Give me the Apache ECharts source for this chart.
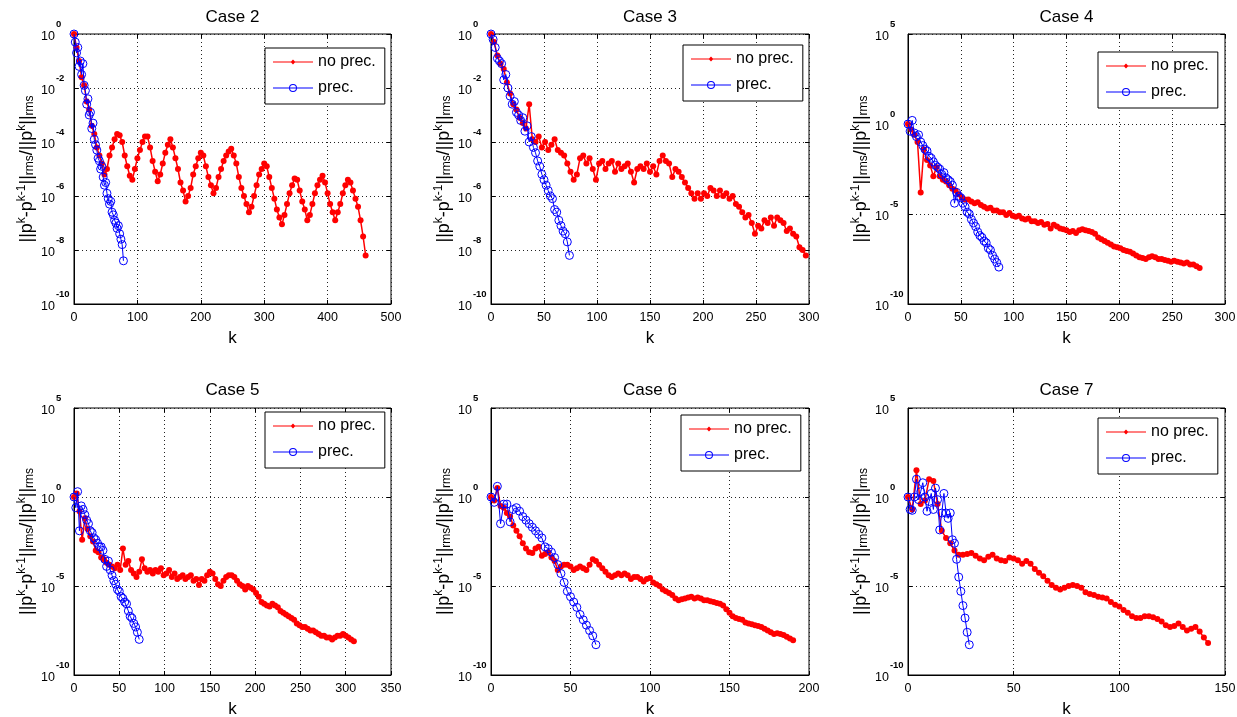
<!DOCTYPE html>
<html>
<head>
<meta charset="utf-8">
<script src="https://cdn.jsdelivr.net/npm/echarts@6.0.0/dist/echarts.min.js"></script>
<style>
  html, body { margin: 0; padding: 0; background: #fff; }
  #main { width: 1237px; height: 717px; }
</style>
</head>
<body>
<div id="main"></div>
<script>
// panel setup
var caseTitles = ['Case 2', 'Case 3', 'Case 4', 'Case 5', 'Case 6', 'Case 7'];
var kMax = [500, 300, 300, 350, 200, 150];
var kTick = [100, 50, 50, 50, 50, 50];
var expTop = [0, 0, 5, 5, 5, 5];
var expTick = [2, 2, 5, 5, 5, 5];
var expBottom = -10;
var redStep = [4, 3, 3, 3, 2, 2];
var blueStep = [2, 2, 2, 2, 2, 1];

// log10 of the residual
var case2Red = [0, -0.5, -1.0, -1.6, -1.9, -2.5, -2.8, -3.4, -3.7, -4.2,
  -4.5, -4.8, -5.2, -5.0, -4.5, -4.2, -3.9, -3.7, -3.75, -4.0,
  -4.5, -4.9, -5.25, -5.4, -5.0, -4.6, -4.3, -4.0, -3.8, -3.8,
  -4.2, -4.7, -5.1, -5.45, -5.2, -4.8, -4.4, -4.1, -3.9, -4.2,
  -4.6, -5.0, -5.5, -5.8, -6.2, -6.0, -5.7, -5.2, -4.9, -4.6,
  -4.4, -4.5, -4.9, -5.3, -5.6, -5.9, -5.7, -5.3, -5.0, -4.7,
  -4.5, -4.35, -4.25, -4.5, -4.8, -5.3, -5.7, -6.0, -6.3, -6.6,
  -6.4, -6.0, -5.6, -5.2, -5.0, -4.8, -4.9, -5.3, -5.7, -6.1,
  -6.5, -6.8, -7.05, -6.7, -6.3, -5.9, -5.6, -5.35, -5.4, -5.8,
  -6.2, -6.5, -6.9, -6.7, -6.3, -5.9, -5.6, -5.4, -5.25, -5.5,
  -5.9, -6.3, -6.6, -6.9, -6.6, -6.3, -5.9, -5.6, -5.4, -5.5,
  -5.8, -6.1, -6.4, -6.9, -7.5, -8.2];
var case2Blue = [0, -0.3, -0.7, -0.5, -1.2, -1.0, -1.5, -1.1, -1.9, -2.1,
  -2.6, -2.4, -3.0, -2.9, -3.5, -3.3, -3.9, -4.1, -4.3, -4.6,
  -4.7, -5.0, -4.9, -5.3, -5.6, -5.5, -5.9, -6.1, -6.3, -6.2,
  -6.6, -6.7, -6.9, -7.0, -7.2, -7.1, -7.4, -7.6, -7.8, -8.4];

var case3Red = [0, -0.3, -0.8, -1.1, -1.3, -1.8, -2.2, -2.6, -2.8, -3.1,
  -3.3, -3.5, -2.6, -3.9, -4.0, -3.8, -4.2, -4.0, -4.3, -4.1,
  -3.9, -4.3, -4.4, -4.5, -4.8, -5.1, -5.4, -5.2, -4.6, -4.5,
  -4.8, -4.6, -5.0, -5.4, -4.8, -4.7, -5.0, -4.8, -4.7, -5.1,
  -4.8, -5.0, -4.9, -4.8, -5.1, -5.5, -5.0, -4.9, -5.0, -4.8,
  -5.1, -4.9, -5.2, -4.7, -4.5, -4.7, -4.8, -5.3, -5.0, -5.1,
  -5.3, -5.5, -5.7, -5.9, -6.1, -5.9, -6.1, -5.9, -6.0, -5.7,
  -5.8, -6.0, -5.8, -6.0, -5.9, -6.1, -6.0, -6.3, -6.4, -6.6,
  -6.8, -6.7, -7.0, -7.4, -7.1, -7.2, -6.9, -7.0, -6.8, -7.1,
  -6.8, -6.9, -7.0, -7.3, -7.2, -7.4, -7.5, -7.9, -8.0, -8.2];
var case3Blue = [0, -0.2, -0.5, -0.9, -1.0, -1.1, -1.7, -1.5, -2.0, -2.3,
  -2.6, -2.5, -2.9, -3.0, -3.2, -3.1, -3.6, -3.4, -4.0, -3.8,
  -4.2, -4.4, -4.7, -4.9, -5.2, -5.4, -5.6, -5.8, -6.0, -6.1,
  -6.5, -6.6, -6.9, -7.1, -7.3, -7.4, -7.7, -8.2];

var case4Red = [0, -0.3, -0.6, -1.0, -3.8, -1.4, -2.0, -2.3, -2.9, -2.4,
  -2.9, -3.1, -3.2, -3.4, -3.6, -3.7, -3.9, -4.1, -4.2, -4.2,
  -4.3, -4.4, -4.35, -4.5, -4.6, -4.7, -4.65, -4.8, -4.8, -4.9,
  -4.9, -5.05, -4.95, -5.1, -5.15, -5.1, -5.25, -5.3, -5.25, -5.4,
  -5.4, -5.5, -5.45, -5.6, -5.55, -5.8, -5.6, -5.7, -5.8, -5.85,
  -5.9, -6.0, -5.95, -6.05, -5.9, -5.85, -5.9, -5.95, -6.0, -6.1,
  -6.3, -6.4, -6.5, -6.6, -6.7, -6.8, -6.85, -6.9, -7.0, -7.05,
  -7.1, -7.2, -7.3, -7.4, -7.45, -7.5, -7.4, -7.35, -7.4, -7.5,
  -7.5, -7.55, -7.6, -7.65, -7.6, -7.65, -7.7, -7.75, -7.7, -7.8,
  -7.8, -7.9, -8.0];
var case4Blue = [0, -0.4, 0.2, -0.5, -0.7, -0.6, -1.0, -1.2, -1.4, -1.5,
  -1.8, -1.9, -2.1, -2.3, -2.4, -2.5, -2.8, -2.7, -3.0, -3.1,
  -3.2, -3.4, -4.4, -3.8, -4.0, -4.1, -4.4, -4.6, -4.9, -5.0,
  -5.3, -5.5, -5.7, -6.0, -6.2, -6.3, -6.5, -6.6, -6.9, -7.0,
  -7.3, -7.5, -7.7, -7.95];

var case5Red = [0, 0.2, -0.8, -2.4, -1.2, -1.8, -2.2, -2.5, -3.0, -3.1,
  -3.4, -3.5, -3.7, -3.8, -3.9, -4.0, -3.8, -4.1, -2.9, -3.8,
  -3.6, -4.1, -4.3, -4.5, -4.2, -3.5, -4.0, -4.2, -4.1, -4.3,
  -4.1, -4.2, -4.0, -4.4, -4.3, -4.1, -4.5, -4.3, -4.6, -4.5,
  -4.4, -4.6, -4.5, -4.4, -4.7, -4.6, -4.95, -4.6, -4.7, -4.4,
  -4.2, -4.3, -4.6, -4.9, -5.0, -4.7, -4.5, -4.4, -4.4, -4.5,
  -4.7, -4.9, -5.0, -5.2, -5.0, -5.1, -5.2, -5.4, -5.6, -5.9,
  -6.0, -6.1, -6.15, -6.0, -6.1, -6.2, -6.4, -6.5, -6.6, -6.7,
  -6.8, -6.9, -7.1, -7.2, -7.3, -7.3, -7.4, -7.5, -7.5, -7.6,
  -7.7, -7.8, -7.8, -7.9, -7.9, -8.0, -7.9, -7.8, -7.8, -7.7,
  -7.8, -7.9, -8.0, -8.1];
var case5Blue = [0, -0.6, 0.3, -1.9, -0.5, -0.7, -1.0, -1.3, -1.5, -1.9,
  -2.0, -2.3, -2.4, -2.6, -2.8, -2.8, -3.0, -3.5, -3.9, -3.6,
  -4.1, -4.4, -4.7, -4.9, -5.2, -5.3, -5.6, -5.7, -5.9, -6.0,
  -6.4, -6.7, -6.8, -7.1, -7.3, -7.6, -8.0];

var case6Red = [0, -0.2, 0.5, -0.5, -0.6, -0.9, -1.1, -1.6, -1.9, -2.2,
  -2.6, -2.9, -3.1, -3.15, -2.9, -2.8, -3.3, -3.2, -3.1, -3.4,
  -3.6, -4.1, -3.9, -3.8, -3.8, -3.9, -4.1, -4.0, -3.9, -4.0,
  -4.1, -3.8, -3.5, -3.6, -3.8, -4.0, -4.2, -4.4, -4.5, -4.4,
  -4.3, -4.4, -4.3, -4.4, -4.6, -4.5, -4.5, -4.6, -4.75, -4.6,
  -4.55, -4.8, -4.9, -5.0, -5.2, -5.3, -5.4, -5.5, -5.7, -5.8,
  -5.75, -5.7, -5.65, -5.6, -5.7, -5.65, -5.7, -5.8, -5.8, -5.85,
  -5.9, -5.95, -6.0, -6.1, -6.3, -6.5, -6.7, -6.8, -6.85, -6.9,
  -7.05, -7.1, -7.15, -7.2, -7.25, -7.3, -7.4, -7.5, -7.6, -7.7,
  -7.65, -7.7, -7.75, -7.85, -7.95, -8.05];
var case6Blue = [0, -0.3, 0.6, -1.5, -0.4, -0.4, -1.4, -0.7, -0.6, -0.8,
  -1.1, -1.3, -1.5, -1.7, -1.9, -2.1, -2.3, -2.8, -2.9, -3.1,
  -3.4, -3.8, -4.3, -4.8, -5.3, -5.6, -5.9, -6.2, -6.6, -6.9,
  -7.2, -7.5, -7.8, -8.3];

var case7Red = [0, -0.7, 1.5, -0.4, -0.2, 1.0, 0.9, -0.4, -1.9, -2.3,
  -2.6, -3.0, -3.25, -3.25, -3.2, -3.15, -3.3, -3.45, -3.55, -3.35,
  -3.25, -3.45, -3.55, -3.6, -3.4, -3.45, -3.55, -3.75, -3.6, -3.75,
  -4.05, -4.25, -4.45, -4.7, -4.95, -5.1, -5.2, -5.1, -5.0, -4.95,
  -5.0, -5.1, -5.35, -5.45, -5.5, -5.6, -5.65, -5.7, -5.9, -6.05,
  -6.15, -6.35, -6.5, -6.7, -6.8, -6.8, -6.7, -6.7, -6.75, -6.85,
  -7.0, -7.2, -7.3, -7.25, -7.1, -7.3, -7.5, -7.4, -7.3, -7.55,
  -7.9, -8.2];
var case7Blue = [0, -0.7, -0.75, 0.0, 1.0, -0.15, 0.3, 0.8, 0.0, -0.8,
  -0.25, 0.2, -0.7, 0.5, -0.15, -1.85, -0.9, 0.2, -0.9, -1.2,
  -0.9, -2.4, -2.6, -3.5, -4.5, -5.3, -6.1, -6.8, -7.6, -8.3];

var redValues = [case2Red, case3Red, case4Red, case5Red, case6Red, case7Red];
var blueValues = [case2Blue, case3Blue, case4Blue, case5Blue, case6Blue, case7Blue];

function toPoints(vals, step) {
  return vals.map(function (v, i) { return [i * step, v]; });
}

var font = '"Liberation Sans", Arial, Helvetica, sans-serif';
var cols = [{ left: 74, width: 317 }, { left: 491, width: 318 }, { left: 908, width: 317 }];
var rows = [{ top: 34, height: 270, titleY: 17 }, { top: 408, height: 267, titleY: 390 }];
var legendPos = [[265, 48], [683, 45], [1098, 52], [265, 412], [681, 415], [1098, 418]];

// legend glyphs: thin line with a dot / with a hollow ring (box 40x10)
var redIcon = 'path://M0,0M40,10M0,4.5H40V5.5H0ZM20,2.6L22.4,5L20,7.4L17.6,5Z';
var blueIcon = 'path://M0,0M40,10M0,4.5H40V5.5H0Z' +
  'M16,5A4,4,0,1,1,24,5A4,4,0,1,1,16,5Z' +
  'M17,5A3,3,0,1,0,23,5A3,3,0,1,0,17,5Z';

var yName = '{m|||p}{s|k}{m|-p}{s|k-1}{m|||}{u|rms}{m|/||p}{s|k}{m|||}{u|rms}';

var grids = [], xAxes = [], yAxes = [], series = [], legends = [], titles = [];

caseTitles.forEach(function (title, i) {
  var col = cols[i % 3], row = rows[Math.floor(i / 3)];
  grids.push({
    left: col.left, top: row.top, width: col.width, height: row.height,
    show: true, borderColor: '#000', borderWidth: 1, backgroundColor: '#fff',
    containLabel: false, outerBoundsMode: 'none'
  });
  titles.push({
    type: 'text', x: col.left + col.width / 2, y: row.titleY,
    style: { text: title, fontSize: 17, fontFamily: font, fill: '#000', align: 'center', verticalAlign: 'middle' }
  });

  var split = { show: true, lineStyle: { color: '#222', width: 1, type: [1, 3] } };
  var tick = { show: true, inside: true, length: 4, lineStyle: { color: '#000' } };

  xAxes.push({
    type: 'value', gridIndex: i, position: 'bottom',
    min: 0, max: kMax[i], interval: kTick[i],
    name: 'k', nameLocation: 'middle', nameGap: 26,
    nameTextStyle: { fontSize: 17, color: '#000', fontFamily: font },
    axisLine: { show: true, onZero: false, lineStyle: { color: '#000' } },
    axisTick: tick,
    axisLabel: { color: '#000', fontSize: 12.5, margin: 7, fontFamily: font },
    splitLine: split
  });
  xAxes.push({
    type: 'value', gridIndex: i, position: 'top',
    min: 0, max: kMax[i], interval: kTick[i],
    axisLine: { show: false, onZero: false },
    axisTick: tick, axisLabel: { show: false }, splitLine: { show: false }
  });

  yAxes.push({
    type: 'value', gridIndex: i, position: 'left',
    min: expBottom, max: expTop[i], interval: expTick[i],
    name: yName, nameLocation: 'middle', nameRotate: 90, nameGap: 36,
    nameTextStyle: {
      color: '#000', fontSize: 18, fontFamily: font,
      rich: {
        m: { fontSize: 18, color: '#000', fontFamily: font },
        s: { fontSize: 12, color: '#000', fontFamily: font, padding: [0, 0, 10, 0] },
        u: { fontSize: 12, color: '#000', fontFamily: font, padding: [6, 0, 0, 0] }
      }
    },
    axisLine: { show: true, onZero: false, lineStyle: { color: '#000' } },
    axisTick: tick,
    axisLabel: {
      align: 'left', margin: 33,
      formatter: function (v) { return '{b|10}{e|' + v + '}'; },
      rich: {
        b: { fontSize: 12.5, color: '#000', fontFamily: font, padding: [5, 0, 0, 0] },
        e: { fontSize: 9.5, fontWeight: 'bold', color: '#000', fontFamily: font, padding: [0, 0, 20, 1] }
      }
    },
    splitLine: split
  });
  yAxes.push({
    type: 'value', gridIndex: i, position: 'right',
    min: expBottom, max: expTop[i], interval: expTick[i],
    axisLine: { show: false, onZero: false },
    axisTick: tick, axisLabel: { show: false }, splitLine: { show: false }
  });

  series.push({
    type: 'line', name: 'no prec.',
    xAxisIndex: 2 * i, yAxisIndex: 2 * i,
    data: toPoints(redValues[i], redStep[i]),
    symbol: 'circle', symbolSize: 6,
    itemStyle: { color: '#ff0000' },
    lineStyle: { color: '#ff0000', width: 1.5 },
    emphasis: { disabled: true }, z: 2
  });
  series.push({
    type: 'line', name: 'prec.',
    xAxisIndex: 2 * i, yAxisIndex: 2 * i,
    data: toPoints(blueValues[i], blueStep[i]),
    symbol: 'circle', symbolSize: 8,
    itemStyle: { color: 'rgba(0,0,0,0)', borderColor: '#0000ff', borderWidth: 1 },
    lineStyle: { color: '#0000ff', width: 1 },
    emphasis: { disabled: true }, z: 3
  });

  legends.push({
    orient: 'vertical', left: legendPos[i][0], top: legendPos[i][1],
    itemWidth: 40, itemHeight: 10, itemGap: 10, padding: [6, 9, 8, 8],
    borderColor: '#000', borderWidth: 1, backgroundColor: '#fff',
    symbolKeepAspect: false, selectedMode: false,
    textStyle: { fontSize: 16, color: '#000', fontFamily: font },
    data: [
      { name: 'no prec.', icon: redIcon, itemStyle: { color: '#ff0000', borderWidth: 0 } },
      { name: 'prec.', icon: blueIcon, itemStyle: { color: '#0000ff', borderWidth: 0 } }
    ]
  });
});

var myChart = echarts.init(document.getElementById('main'));
myChart.setOption({
  animation: false,
  backgroundColor: '#fff',
  textStyle: { fontFamily: font },
  grid: grids,
  xAxis: xAxes,
  yAxis: yAxes,
  legend: legends,
  graphic: titles,
  series: series
});
</script>
</body>
</html>
